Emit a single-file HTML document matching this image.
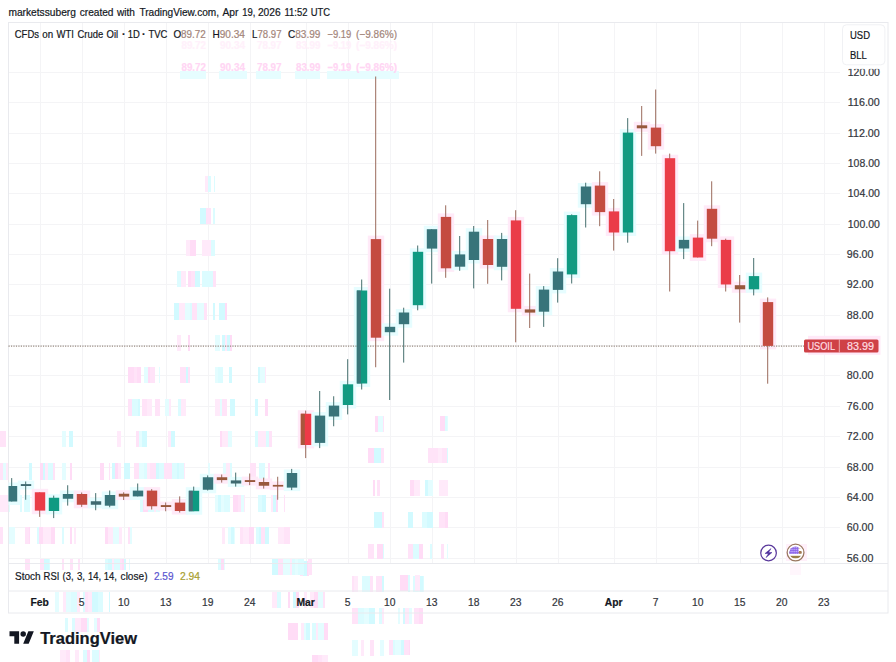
<!DOCTYPE html>
<html><head><meta charset="utf-8"><title>chart</title>
<style>
html,body{margin:0;padding:0;background:#fff;}
body{width:896px;height:662px;overflow:hidden;position:relative;font-family:"Liberation Sans",sans-serif;}
svg{position:absolute;left:0;top:0;}
text{font-family:"Liberation Sans",sans-serif;}
text,tspan{fill:currentColor;stroke:currentColor;stroke-width:0.2px;}
</style></head><body>
<svg width="896" height="662" viewBox="0 0 896 662">
<rect x="0" y="0" width="896" height="662" fill="#ffffff"/>

<g stroke="#f4f4f6" stroke-width="1" shape-rendering="crispEdges">
<line x1="40.0" y1="22.5" x2="40.0" y2="563.5"/>
<line x1="82.0" y1="22.5" x2="82.0" y2="563.5"/>
<line x1="124.0" y1="22.5" x2="124.0" y2="563.5"/>
<line x1="166.0" y1="22.5" x2="166.0" y2="563.5"/>
<line x1="208.0" y1="22.5" x2="208.0" y2="563.5"/>
<line x1="250.0" y1="22.5" x2="250.0" y2="563.5"/>
<line x1="306.0" y1="22.5" x2="306.0" y2="563.5"/>
<line x1="348.0" y1="22.5" x2="348.0" y2="563.5"/>
<line x1="390.0" y1="22.5" x2="390.0" y2="563.5"/>
<line x1="432.0" y1="22.5" x2="432.0" y2="563.5"/>
<line x1="474.0" y1="22.5" x2="474.0" y2="563.5"/>
<line x1="516.0" y1="22.5" x2="516.0" y2="563.5"/>
<line x1="558.0" y1="22.5" x2="558.0" y2="563.5"/>
<line x1="614.0" y1="22.5" x2="614.0" y2="563.5"/>
<line x1="656.0" y1="22.5" x2="656.0" y2="563.5"/>
<line x1="698.0" y1="22.5" x2="698.0" y2="563.5"/>
<line x1="740.0" y1="22.5" x2="740.0" y2="563.5"/>
<line x1="782.0" y1="22.5" x2="782.0" y2="563.5"/>
<line x1="824.0" y1="22.5" x2="824.0" y2="563.5"/>
<line x1="8.5" y1="558.1" x2="840" y2="558.1"/>
<line x1="8.5" y1="527.7" x2="840" y2="527.7"/>
<line x1="8.5" y1="497.3" x2="840" y2="497.3"/>
<line x1="8.5" y1="467.0" x2="840" y2="467.0"/>
<line x1="8.5" y1="436.6" x2="840" y2="436.6"/>
<line x1="8.5" y1="406.3" x2="840" y2="406.3"/>
<line x1="8.5" y1="375.9" x2="840" y2="375.9"/>
<line x1="8.5" y1="345.5" x2="840" y2="345.5"/>
<line x1="8.5" y1="315.2" x2="840" y2="315.2"/>
<line x1="8.5" y1="284.8" x2="840" y2="284.8"/>
<line x1="8.5" y1="254.5" x2="840" y2="254.5"/>
<line x1="8.5" y1="224.1" x2="840" y2="224.1"/>
<line x1="8.5" y1="193.7" x2="840" y2="193.7"/>
<line x1="8.5" y1="163.4" x2="840" y2="163.4"/>
<line x1="8.5" y1="133.0" x2="840" y2="133.0"/>
<line x1="8.5" y1="102.7" x2="840" y2="102.7"/>
<line x1="8.5" y1="72.3" x2="840" y2="72.3"/>
</g>
<g shape-rendering="crispEdges">
<rect x="177" y="271" width="4" height="16" fill="#dcfcff"/>
<rect x="181" y="271" width="5" height="16" fill="#ffeafa"/>
<rect x="188" y="271" width="3" height="16" fill="#ffdcf6"/>
<rect x="191" y="271" width="4" height="16" fill="#ffe3f8"/>
<rect x="195" y="271" width="5" height="16" fill="#d2faff"/>
<rect x="202" y="271" width="6" height="16" fill="#dcfcff"/>
<rect x="208" y="271" width="5" height="16" fill="#dcfcff"/>
<rect x="213" y="271" width="3" height="16" fill="#ffe3f8"/>
<rect x="174" y="303" width="3" height="17" fill="#d2faff"/>
<rect x="177" y="303" width="2" height="17" fill="#d2faff"/>
<rect x="179" y="303" width="6" height="17" fill="#ffeafa"/>
<rect x="185" y="303" width="5" height="17" fill="#e4fdff"/>
<rect x="190" y="303" width="2" height="17" fill="#dcfcff"/>
<rect x="192" y="303" width="5" height="17" fill="#ffe3f8"/>
<rect x="197" y="303" width="4" height="17" fill="#e4fdff"/>
<rect x="201" y="303" width="3" height="17" fill="#e4fdff"/>
<rect x="204" y="303" width="3" height="17" fill="#ffe3f8"/>
<rect x="213" y="303" width="2" height="17" fill="#d2faff"/>
<rect x="219" y="303" width="6" height="17" fill="#d2faff"/>
<rect x="225" y="303" width="2" height="17" fill="#ffdcf6"/>
<rect x="177" y="335" width="4" height="16" fill="#ffeafa"/>
<rect x="188" y="335" width="2" height="16" fill="#ffdcf6"/>
<rect x="215" y="335" width="5" height="16" fill="#e4fdff"/>
<rect x="222" y="335" width="3" height="16" fill="#d2faff"/>
<rect x="225" y="335" width="2" height="16" fill="#ffeafa"/>
<rect x="227" y="335" width="3" height="16" fill="#d2faff"/>
<rect x="230" y="335" width="2" height="16" fill="#ffdcf6"/>
<rect x="128" y="367" width="6" height="16" fill="#ffdcf6"/>
<rect x="134" y="367" width="3" height="16" fill="#ffe3f8"/>
<rect x="137" y="367" width="4" height="16" fill="#ffdcf6"/>
<rect x="144" y="367" width="4" height="16" fill="#e4fdff"/>
<rect x="148" y="367" width="2" height="16" fill="#ffdcf6"/>
<rect x="150" y="367" width="5" height="16" fill="#ffe3f8"/>
<rect x="159" y="367" width="1" height="16" fill="#e4fdff"/>
<rect x="180" y="367" width="3" height="16" fill="#ffe3f8"/>
<rect x="183" y="367" width="3" height="16" fill="#ffe3f8"/>
<rect x="186" y="367" width="2" height="16" fill="#d2faff"/>
<rect x="188" y="367" width="2" height="16" fill="#ffe3f8"/>
<rect x="215" y="367" width="3" height="16" fill="#e4fdff"/>
<rect x="218" y="367" width="5" height="16" fill="#dcfcff"/>
<rect x="229" y="367" width="3" height="16" fill="#d2faff"/>
<rect x="258" y="367" width="2" height="16" fill="#d2faff"/>
<rect x="260" y="367" width="5" height="16" fill="#e4fdff"/>
<rect x="265" y="367" width="1" height="16" fill="#ffeafa"/>
<rect x="128" y="399" width="4" height="17" fill="#ffe3f8"/>
<rect x="132" y="399" width="3" height="17" fill="#dcfcff"/>
<rect x="135" y="399" width="3" height="17" fill="#dcfcff"/>
<rect x="138" y="399" width="2" height="17" fill="#d2faff"/>
<rect x="142" y="399" width="5" height="17" fill="#ffe3f8"/>
<rect x="147" y="399" width="5" height="17" fill="#ffeafa"/>
<rect x="155" y="399" width="5" height="17" fill="#ffe3f8"/>
<rect x="165" y="399" width="4" height="17" fill="#e4fdff"/>
<rect x="169" y="399" width="2" height="17" fill="#ffeafa"/>
<rect x="178" y="399" width="3" height="17" fill="#dcfcff"/>
<rect x="181" y="399" width="5" height="17" fill="#ffeafa"/>
<rect x="215" y="399" width="5" height="17" fill="#ffeafa"/>
<rect x="220" y="399" width="2" height="17" fill="#e4fdff"/>
<rect x="222" y="399" width="5" height="17" fill="#ffe3f8"/>
<rect x="230" y="399" width="5" height="17" fill="#d2faff"/>
<rect x="255" y="399" width="3" height="17" fill="#d2faff"/>
<rect x="265" y="399" width="3" height="17" fill="#ffdcf6"/>
<rect x="117" y="431" width="4" height="16" fill="#ffeafa"/>
<rect x="136" y="431" width="3" height="16" fill="#ffe3f8"/>
<rect x="139" y="431" width="3" height="16" fill="#e4fdff"/>
<rect x="142" y="431" width="3" height="16" fill="#d2faff"/>
<rect x="145" y="431" width="2" height="16" fill="#d2faff"/>
<rect x="168" y="431" width="3" height="16" fill="#ffeafa"/>
<rect x="171" y="431" width="4" height="16" fill="#d2faff"/>
<rect x="220" y="431" width="2" height="16" fill="#ffdcf6"/>
<rect x="222" y="431" width="6" height="16" fill="#ffeafa"/>
<rect x="228" y="431" width="4" height="16" fill="#e4fdff"/>
<rect x="255" y="431" width="3" height="16" fill="#dcfcff"/>
<rect x="258" y="431" width="2" height="16" fill="#ffeafa"/>
<rect x="260" y="431" width="6" height="16" fill="#ffeafa"/>
<rect x="266" y="431" width="3" height="16" fill="#dcfcff"/>
<rect x="269" y="431" width="3" height="16" fill="#ffe3f8"/>
<rect x="112" y="463" width="3" height="16" fill="#d2faff"/>
<rect x="115" y="463" width="3" height="16" fill="#ffdcf6"/>
<rect x="118" y="463" width="3" height="16" fill="#ffeafa"/>
<rect x="124" y="463" width="6" height="16" fill="#d2faff"/>
<rect x="134" y="463" width="5" height="16" fill="#ffe3f8"/>
<rect x="139" y="463" width="5" height="16" fill="#e4fdff"/>
<rect x="144" y="463" width="3" height="16" fill="#dcfcff"/>
<rect x="147" y="463" width="3" height="16" fill="#ffeafa"/>
<rect x="150" y="463" width="6" height="16" fill="#ffe3f8"/>
<rect x="156" y="463" width="3" height="16" fill="#d2faff"/>
<rect x="159" y="463" width="5" height="16" fill="#dcfcff"/>
<rect x="164" y="463" width="5" height="16" fill="#ffe3f8"/>
<rect x="169" y="463" width="3" height="16" fill="#ffe3f8"/>
<rect x="172" y="463" width="5" height="16" fill="#dcfcff"/>
<rect x="177" y="463" width="2" height="16" fill="#d2faff"/>
<rect x="179" y="463" width="5" height="16" fill="#dcfcff"/>
<rect x="184" y="463" width="1" height="16" fill="#ffeafa"/>
<rect x="208" y="463" width="2" height="16" fill="#e4fdff"/>
<rect x="223" y="463" width="3" height="16" fill="#e4fdff"/>
<rect x="226" y="463" width="4" height="16" fill="#ffeafa"/>
<rect x="230" y="463" width="2" height="16" fill="#dcfcff"/>
<rect x="250" y="463" width="6" height="16" fill="#ffe3f8"/>
<rect x="259" y="463" width="6" height="16" fill="#dcfcff"/>
<rect x="268" y="463" width="2" height="16" fill="#ffe3f8"/>
<rect x="375" y="416" width="3" height="16" fill="#ffdcf6"/>
<rect x="378" y="416" width="5" height="16" fill="#e4fdff"/>
<rect x="383" y="416" width="1" height="16" fill="#ffe3f8"/>
<rect x="368" y="448" width="6" height="15" fill="#ffdcf6"/>
<rect x="374" y="448" width="5" height="15" fill="#d2faff"/>
<rect x="379" y="448" width="2" height="15" fill="#d2faff"/>
<rect x="381" y="448" width="3" height="15" fill="#ffe3f8"/>
<rect x="373" y="480" width="2" height="16" fill="#ffdcf6"/>
<rect x="377" y="480" width="3" height="16" fill="#ffe3f8"/>
<rect x="374" y="512" width="3" height="16" fill="#d2faff"/>
<rect x="377" y="512" width="5" height="16" fill="#d2faff"/>
<rect x="382" y="512" width="2" height="16" fill="#ffe3f8"/>
<rect x="368" y="544" width="6" height="15" fill="#ffe3f8"/>
<rect x="377" y="544" width="6" height="15" fill="#ffdcf6"/>
<rect x="383" y="544" width="1" height="15" fill="#dcfcff"/>
<rect x="352" y="576" width="2" height="16" fill="#ffe3f8"/>
<rect x="354" y="576" width="4" height="16" fill="#ffeafa"/>
<rect x="362" y="576" width="3" height="16" fill="#dcfcff"/>
<rect x="365" y="576" width="5" height="16" fill="#dcfcff"/>
<rect x="370" y="576" width="3" height="16" fill="#ffe3f8"/>
<rect x="376" y="576" width="6" height="16" fill="#ffe3f8"/>
<rect x="382" y="576" width="2" height="16" fill="#d2faff"/>
<rect x="352" y="608" width="3" height="16" fill="#ffe3f8"/>
<rect x="355" y="608" width="3" height="16" fill="#ffe3f8"/>
<rect x="358" y="608" width="6" height="16" fill="#dcfcff"/>
<rect x="364" y="608" width="5" height="16" fill="#e4fdff"/>
<rect x="369" y="608" width="2" height="16" fill="#d2faff"/>
<rect x="371" y="608" width="4" height="16" fill="#d2faff"/>
<rect x="379" y="608" width="3" height="16" fill="#dcfcff"/>
<rect x="382" y="608" width="2" height="16" fill="#ffeafa"/>
<rect x="352" y="640" width="6" height="16" fill="#e4fdff"/>
<rect x="361" y="640" width="3" height="16" fill="#ffeafa"/>
<rect x="370" y="640" width="4" height="16" fill="#ffe3f8"/>
<rect x="380" y="640" width="4" height="16" fill="#e4fdff"/>
<rect x="440" y="416" width="5" height="15" fill="#ffdcf6"/>
<rect x="445" y="416" width="2" height="15" fill="#dcfcff"/>
<rect x="447" y="416" width="1" height="15" fill="#e4fdff"/>
<rect x="428" y="448" width="5" height="15" fill="#ffe3f8"/>
<rect x="433" y="448" width="3" height="15" fill="#ffe3f8"/>
<rect x="436" y="448" width="2" height="15" fill="#ffe3f8"/>
<rect x="438" y="448" width="4" height="15" fill="#ffeafa"/>
<rect x="442" y="448" width="3" height="15" fill="#ffe3f8"/>
<rect x="445" y="448" width="2" height="15" fill="#ffe3f8"/>
<rect x="447" y="448" width="1" height="15" fill="#dcfcff"/>
<rect x="410" y="480" width="4" height="16" fill="#ffdcf6"/>
<rect x="414" y="480" width="6" height="16" fill="#ffeafa"/>
<rect x="425" y="480" width="3" height="16" fill="#d2faff"/>
<rect x="428" y="480" width="5" height="16" fill="#e4fdff"/>
<rect x="439" y="480" width="3" height="16" fill="#ffeafa"/>
<rect x="442" y="480" width="6" height="16" fill="#ffeafa"/>
<rect x="408" y="512" width="5" height="16" fill="#d2faff"/>
<rect x="422" y="512" width="5" height="16" fill="#dcfcff"/>
<rect x="427" y="512" width="6" height="16" fill="#d2faff"/>
<rect x="439" y="512" width="6" height="16" fill="#ffe3f8"/>
<rect x="445" y="512" width="2" height="16" fill="#ffdcf6"/>
<rect x="447" y="512" width="1" height="16" fill="#ffdcf6"/>
<rect x="408" y="544" width="5" height="15" fill="#ffe3f8"/>
<rect x="413" y="544" width="6" height="15" fill="#dcfcff"/>
<rect x="419" y="544" width="4" height="15" fill="#ffdcf6"/>
<rect x="430" y="544" width="2" height="15" fill="#dcfcff"/>
<rect x="441" y="544" width="3" height="15" fill="#ffe3f8"/>
<rect x="447" y="544" width="1" height="15" fill="#e4fdff"/>
<rect x="408" y="576" width="2" height="16" fill="#d2faff"/>
<rect x="413" y="576" width="5" height="16" fill="#dcfcff"/>
<rect x="418" y="576" width="2" height="16" fill="#e4fdff"/>
<rect x="420" y="576" width="3" height="16" fill="#d2faff"/>
<rect x="423" y="576" width="1" height="16" fill="#dcfcff"/>
<rect x="398" y="608" width="2" height="16" fill="#e4fdff"/>
<rect x="403" y="608" width="2" height="16" fill="#d2faff"/>
<rect x="405" y="608" width="4" height="16" fill="#ffeafa"/>
<rect x="409" y="608" width="3" height="16" fill="#e4fdff"/>
<rect x="414" y="608" width="5" height="16" fill="#ffe3f8"/>
<rect x="419" y="608" width="4" height="16" fill="#ffdcf6"/>
<rect x="389" y="640" width="4" height="15" fill="#ffe3f8"/>
<rect x="393" y="640" width="2" height="15" fill="#dcfcff"/>
<rect x="395" y="640" width="6" height="15" fill="#e4fdff"/>
<rect x="401" y="640" width="3" height="15" fill="#d2faff"/>
<rect x="404" y="640" width="5" height="15" fill="#ffe3f8"/>
<rect x="409" y="640" width="1" height="15" fill="#ffdcf6"/>
<rect x="312" y="623" width="4" height="17" fill="#dcfcff"/>
<rect x="318" y="623" width="6" height="17" fill="#e4fdff"/>
<rect x="324" y="623" width="4" height="17" fill="#ffdcf6"/>
<rect x="312" y="655" width="4" height="7" fill="#ffdcf6"/>
<rect x="316" y="655" width="2" height="7" fill="#ffdcf6"/>
<rect x="318" y="655" width="4" height="7" fill="#ffe3f8"/>
<rect x="322" y="655" width="6" height="7" fill="#ffeafa"/>
<rect x="300" y="561" width="3" height="15" fill="#ffe3f8"/>
<rect x="303" y="561" width="4" height="15" fill="#d2faff"/>
<rect x="307" y="561" width="2" height="15" fill="#ffdcf6"/>
<rect x="205" y="176" width="3" height="16" fill="#ffeafa"/>
<rect x="208" y="176" width="3" height="16" fill="#dcfcff"/>
<rect x="214" y="176" width="1" height="16" fill="#dcfcff"/>
<rect x="200" y="208" width="6" height="16" fill="#d2faff"/>
<rect x="206" y="208" width="5" height="16" fill="#ffe3f8"/>
<rect x="213" y="208" width="2" height="16" fill="#dcfcff"/>
<rect x="186" y="240" width="4" height="16" fill="#ffeafa"/>
<rect x="190" y="240" width="3" height="16" fill="#ffdcf6"/>
<rect x="193" y="240" width="3" height="16" fill="#ffdcf6"/>
<rect x="202" y="240" width="6" height="16" fill="#ffeafa"/>
<rect x="208" y="240" width="3" height="16" fill="#ffeafa"/>
<rect x="211" y="240" width="4" height="16" fill="#dcfcff"/>
<rect x="0" y="431" width="6" height="16" fill="#ffe3f8"/>
<rect x="62" y="431" width="4" height="16" fill="#e4fdff"/>
<rect x="69" y="431" width="4" height="16" fill="#d2faff"/>
<rect x="0" y="463" width="3" height="17" fill="#ffe3f8"/>
<rect x="3" y="463" width="3" height="17" fill="#e4fdff"/>
<rect x="6" y="463" width="2" height="17" fill="#ffeafa"/>
<rect x="29" y="463" width="3" height="17" fill="#d2faff"/>
<rect x="40" y="463" width="3" height="17" fill="#ffdcf6"/>
<rect x="43" y="463" width="2" height="17" fill="#d2faff"/>
<rect x="45" y="463" width="3" height="17" fill="#ffeafa"/>
<rect x="48" y="463" width="5" height="17" fill="#dcfcff"/>
<rect x="53" y="463" width="2" height="17" fill="#ffe3f8"/>
<rect x="62" y="463" width="4" height="17" fill="#e4fdff"/>
<rect x="70" y="463" width="2" height="17" fill="#ffdcf6"/>
<rect x="100" y="463" width="4" height="17" fill="#ffdcf6"/>
<rect x="109" y="463" width="1" height="17" fill="#ffe3f8"/>
<rect x="0" y="495" width="3" height="17" fill="#ffeafa"/>
<rect x="3" y="495" width="6" height="17" fill="#ffeafa"/>
<rect x="9" y="495" width="1" height="17" fill="#e4fdff"/>
<rect x="20" y="495" width="2" height="17" fill="#dcfcff"/>
<rect x="24" y="495" width="3" height="17" fill="#dcfcff"/>
<rect x="27" y="495" width="3" height="17" fill="#dcfcff"/>
<rect x="33" y="495" width="6" height="17" fill="#ffeafa"/>
<rect x="39" y="495" width="4" height="17" fill="#dcfcff"/>
<rect x="43" y="495" width="2" height="17" fill="#ffeafa"/>
<rect x="45" y="495" width="5" height="17" fill="#ffdcf6"/>
<rect x="53" y="495" width="2" height="17" fill="#ffdcf6"/>
<rect x="55" y="495" width="4" height="17" fill="#ffdcf6"/>
<rect x="140" y="495" width="3" height="17" fill="#dcfcff"/>
<rect x="143" y="495" width="5" height="17" fill="#ffdcf6"/>
<rect x="148" y="495" width="6" height="17" fill="#dcfcff"/>
<rect x="154" y="495" width="2" height="17" fill="#ffeafa"/>
<rect x="156" y="495" width="4" height="17" fill="#e4fdff"/>
<rect x="215" y="495" width="3" height="17" fill="#e4fdff"/>
<rect x="218" y="495" width="3" height="17" fill="#d2faff"/>
<rect x="221" y="495" width="3" height="17" fill="#e4fdff"/>
<rect x="224" y="495" width="6" height="17" fill="#dcfcff"/>
<rect x="233" y="495" width="5" height="17" fill="#ffdcf6"/>
<rect x="238" y="495" width="3" height="17" fill="#ffe3f8"/>
<rect x="241" y="495" width="3" height="17" fill="#e4fdff"/>
<rect x="244" y="495" width="1" height="17" fill="#ffeafa"/>
<rect x="258" y="495" width="4" height="17" fill="#dcfcff"/>
<rect x="262" y="495" width="4" height="17" fill="#d2faff"/>
<rect x="271" y="495" width="2" height="17" fill="#ffeafa"/>
<rect x="273" y="495" width="3" height="17" fill="#d2faff"/>
<rect x="276" y="495" width="2" height="17" fill="#ffdcf6"/>
<rect x="284" y="495" width="1" height="17" fill="#ffe3f8"/>
<rect x="0" y="527" width="3" height="17" fill="#ffe3f8"/>
<rect x="9" y="527" width="6" height="17" fill="#e4fdff"/>
<rect x="25" y="527" width="4" height="17" fill="#ffe3f8"/>
<rect x="29" y="527" width="1" height="17" fill="#ffdcf6"/>
<rect x="37" y="527" width="2" height="17" fill="#dcfcff"/>
<rect x="39" y="527" width="4" height="17" fill="#ffdcf6"/>
<rect x="43" y="527" width="4" height="17" fill="#ffeafa"/>
<rect x="47" y="527" width="4" height="17" fill="#ffeafa"/>
<rect x="51" y="527" width="4" height="17" fill="#ffdcf6"/>
<rect x="62" y="527" width="2" height="17" fill="#dcfcff"/>
<rect x="70" y="527" width="2" height="17" fill="#ffdcf6"/>
<rect x="74" y="527" width="2" height="17" fill="#ffeafa"/>
<rect x="105" y="527" width="3" height="17" fill="#ffdcf6"/>
<rect x="108" y="527" width="5" height="17" fill="#ffeafa"/>
<rect x="113" y="527" width="6" height="17" fill="#e4fdff"/>
<rect x="119" y="527" width="3" height="17" fill="#ffeafa"/>
<rect x="128" y="527" width="2" height="17" fill="#ffe3f8"/>
<rect x="130" y="527" width="2" height="17" fill="#e4fdff"/>
<rect x="222" y="527" width="3" height="17" fill="#ffeafa"/>
<rect x="228" y="527" width="3" height="17" fill="#e4fdff"/>
<rect x="231" y="527" width="3" height="17" fill="#d2faff"/>
<rect x="234" y="527" width="1" height="17" fill="#e4fdff"/>
<rect x="240" y="527" width="3" height="17" fill="#ffe3f8"/>
<rect x="243" y="527" width="6" height="17" fill="#ffeafa"/>
<rect x="249" y="527" width="5" height="17" fill="#ffdcf6"/>
<rect x="256" y="527" width="3" height="17" fill="#dcfcff"/>
<rect x="259" y="527" width="2" height="17" fill="#d2faff"/>
<rect x="261" y="527" width="4" height="17" fill="#ffe3f8"/>
<rect x="265" y="527" width="4" height="17" fill="#d2faff"/>
<rect x="278" y="527" width="3" height="17" fill="#ffeafa"/>
<rect x="281" y="527" width="3" height="17" fill="#ffeafa"/>
<rect x="284" y="527" width="3" height="17" fill="#ffe3f8"/>
<rect x="287" y="527" width="3" height="17" fill="#ffe3f8"/>
<rect x="25" y="559" width="5" height="11" fill="#ffe3f8"/>
<rect x="40" y="559" width="4" height="11" fill="#ffe3f8"/>
<rect x="44" y="559" width="5" height="11" fill="#d2faff"/>
<rect x="49" y="559" width="1" height="11" fill="#dcfcff"/>
<rect x="62" y="559" width="2" height="11" fill="#ffe3f8"/>
<rect x="70" y="559" width="3" height="11" fill="#ffe3f8"/>
<rect x="78" y="559" width="2" height="11" fill="#ffe3f8"/>
<rect x="105" y="559" width="3" height="11" fill="#dcfcff"/>
<rect x="108" y="559" width="4" height="11" fill="#d2faff"/>
<rect x="112" y="559" width="2" height="11" fill="#ffeafa"/>
<rect x="114" y="559" width="6" height="11" fill="#dcfcff"/>
<rect x="120" y="559" width="2" height="11" fill="#ffe3f8"/>
<rect x="122" y="559" width="2" height="11" fill="#ffdcf6"/>
<rect x="124" y="559" width="2" height="11" fill="#d2faff"/>
<rect x="129" y="559" width="1" height="11" fill="#e4fdff"/>
<rect x="218" y="559" width="3" height="11" fill="#dcfcff"/>
<rect x="221" y="559" width="3" height="11" fill="#ffdcf6"/>
<rect x="224" y="559" width="1" height="11" fill="#e4fdff"/>
<rect x="272" y="559" width="6" height="16" fill="#d2faff"/>
<rect x="278" y="559" width="5" height="16" fill="#ffe3f8"/>
<rect x="283" y="559" width="4" height="16" fill="#e4fdff"/>
<rect x="287" y="559" width="3" height="16" fill="#e4fdff"/>
<rect x="290" y="559" width="2" height="16" fill="#ffeafa"/>
<rect x="292" y="559" width="3" height="16" fill="#dcfcff"/>
<rect x="295" y="559" width="3" height="16" fill="#e4fdff"/>
<rect x="298" y="559" width="6" height="16" fill="#dcfcff"/>
<rect x="308" y="559" width="4" height="16" fill="#ffe3f8"/>
<rect x="55" y="592" width="4" height="20" fill="#e4fdff"/>
<rect x="63" y="592" width="3" height="20" fill="#ffeafa"/>
<rect x="66" y="592" width="3" height="20" fill="#e4fdff"/>
<rect x="69" y="592" width="2" height="20" fill="#e4fdff"/>
<rect x="71" y="592" width="6" height="20" fill="#dcfcff"/>
<rect x="77" y="592" width="3" height="20" fill="#ffeafa"/>
<rect x="83" y="592" width="2" height="20" fill="#dcfcff"/>
<rect x="85" y="592" width="3" height="20" fill="#ffe3f8"/>
<rect x="88" y="592" width="4" height="20" fill="#ffeafa"/>
<rect x="92" y="592" width="6" height="20" fill="#d2faff"/>
<rect x="98" y="592" width="5" height="20" fill="#dcfcff"/>
<rect x="109" y="592" width="1" height="20" fill="#d2faff"/>
<rect x="65" y="618" width="3" height="14" fill="#dcfcff"/>
<rect x="72" y="618" width="3" height="14" fill="#dcfcff"/>
<rect x="75" y="618" width="3" height="14" fill="#ffeafa"/>
<rect x="78" y="618" width="3" height="14" fill="#ffeafa"/>
<rect x="81" y="618" width="6" height="14" fill="#ffdcf6"/>
<rect x="87" y="618" width="2" height="14" fill="#e4fdff"/>
<rect x="94" y="618" width="3" height="14" fill="#e4fdff"/>
<rect x="97" y="618" width="3" height="14" fill="#ffdcf6"/>
<rect x="60" y="650" width="6" height="12" fill="#ffeafa"/>
<rect x="66" y="650" width="4" height="12" fill="#ffe3f8"/>
<rect x="75" y="650" width="4" height="12" fill="#ffeafa"/>
<rect x="83" y="650" width="4" height="12" fill="#dcfcff"/>
<rect x="87" y="650" width="3" height="12" fill="#ffdcf6"/>
<rect x="92" y="650" width="5" height="12" fill="#dcfcff"/>
<rect x="97" y="650" width="2" height="12" fill="#dcfcff"/>
<rect x="99" y="650" width="1" height="12" fill="#ffeafa"/>
<rect x="272" y="592" width="5" height="16" fill="#ffeafa"/>
<rect x="277" y="592" width="4" height="16" fill="#dcfcff"/>
<rect x="288" y="592" width="2" height="16" fill="#ffdcf6"/>
<rect x="293" y="592" width="3" height="16" fill="#d2faff"/>
<rect x="296" y="592" width="3" height="16" fill="#ffdcf6"/>
<rect x="304" y="592" width="3" height="16" fill="#ffeafa"/>
<rect x="310" y="592" width="4" height="16" fill="#ffeafa"/>
<rect x="314" y="592" width="4" height="16" fill="#ffdcf6"/>
<rect x="318" y="592" width="5" height="16" fill="#e4fdff"/>
<rect x="323" y="592" width="2" height="16" fill="#ffe3f8"/>
<rect x="288" y="623" width="4" height="17" fill="#ffdcf6"/>
<rect x="292" y="623" width="6" height="17" fill="#ffdcf6"/>
<rect x="301" y="623" width="3" height="17" fill="#ffeafa"/>
<rect x="304" y="623" width="2" height="17" fill="#e4fdff"/>
<rect x="306" y="623" width="4" height="17" fill="#d2faff"/>
<rect x="316" y="623" width="2" height="17" fill="#ffeafa"/>
<rect x="400" y="575" width="3" height="16" fill="#ffdcf6"/>
<rect x="403" y="575" width="5" height="16" fill="#ffdcf6"/>
<rect x="408" y="575" width="2" height="16" fill="#dcfcff"/>
<rect x="415" y="575" width="2" height="16" fill="#ffeafa"/>
<rect x="417" y="575" width="3" height="16" fill="#ffeafa"/>
<rect x="180" y="71" width="26" height="8" fill="#e6fdff"/>
<rect x="219" y="71" width="28" height="8" fill="#e6fdff"/>
<rect x="256" y="71" width="25" height="8" fill="#e6fdff"/>
<rect x="295" y="71" width="25" height="8" fill="#e6fdff"/>
<rect x="327" y="71" width="72" height="8" fill="#e6fdff"/>
</g>
<g font-size="10.5" style="color:#ffd6f4" font-weight="bold">
<text x="181.50" y="70.60" font-size="10.5" textLength="24.40" lengthAdjust="spacingAndGlyphs" font-weight="bold">89.72</text>
<text x="220.00" y="70.60" font-size="10.5" textLength="25.00" lengthAdjust="spacingAndGlyphs" font-weight="bold">90.34</text>
<text x="257.00" y="70.60" font-size="10.5" textLength="24.50" lengthAdjust="spacingAndGlyphs" font-weight="bold">78.97</text>
<text x="296.00" y="70.60" font-size="10.5" textLength="24.40" lengthAdjust="spacingAndGlyphs" font-weight="bold">83.99</text>
<text x="327.37" y="70.60" font-size="10.5" textLength="23.91" lengthAdjust="spacingAndGlyphs" font-weight="bold">−9.19</text>
<text x="356.00" y="70.60" font-size="10.5" textLength="41.00" lengthAdjust="spacingAndGlyphs" font-weight="bold">(−9.86%)</text>
</g>
<g font-size="10.5" style="color:#fff1fb" font-weight="bold">
<text x="181.50" y="48.50" font-size="10.5" textLength="24.40" lengthAdjust="spacingAndGlyphs" font-weight="bold">89.72</text>
<text x="220.00" y="48.50" font-size="10.5" textLength="25.00" lengthAdjust="spacingAndGlyphs" font-weight="bold">90.34</text>
<text x="257.00" y="48.50" font-size="10.5" textLength="24.50" lengthAdjust="spacingAndGlyphs" font-weight="bold">78.97</text>
<text x="296.00" y="48.50" font-size="10.5" textLength="24.40" lengthAdjust="spacingAndGlyphs" font-weight="bold">83.99</text>
<text x="327.37" y="48.50" font-size="10.5" textLength="23.91" lengthAdjust="spacingAndGlyphs" font-weight="bold">−9.19</text>
<text x="356.00" y="48.50" font-size="10.5" textLength="41.00" lengthAdjust="spacingAndGlyphs" font-weight="bold">(−9.86%)</text>
</g>
<g stroke="#e9eaee" stroke-width="1" fill="none">
<rect x="8.5" y="22.5" width="879.5" height="590.5"/>
<line x1="8.5" y1="563.5" x2="888" y2="563.5"/>
<line x1="8.5" y1="591" x2="888" y2="591"/>
</g>
<g>
<rect x="8.5" y="482.5" width="11.7" height="22.5" fill="#e6fdff"/>
<rect x="17.8" y="480.6" width="16.4" height="8.9" fill="#e6fdff"/>
<rect x="31.8" y="488.8" width="16.4" height="25.4" fill="#ffeaf8"/>
<rect x="45.8" y="494.2" width="16.4" height="20.2" fill="#e6fdff"/>
<rect x="59.8" y="490.5" width="16.4" height="11.8" fill="#e6fdff"/>
<rect x="73.8" y="490.5" width="16.4" height="17.8" fill="#ffeaf8"/>
<rect x="87.8" y="497.8" width="16.4" height="10.5" fill="#e6fdff"/>
<rect x="101.8" y="491.5" width="16.4" height="17.7" fill="#e6fdff"/>
<rect x="115.8" y="490.2" width="16.4" height="9.9" fill="#ffeaf8"/>
<rect x="129.8" y="487.1" width="16.4" height="12.8" fill="#e6fdff"/>
<rect x="143.8" y="487.1" width="16.4" height="22.6" fill="#ffeaf8"/>
<rect x="157.8" y="501.6" width="16.4" height="8.9" fill="#ffeaf8"/>
<rect x="171.8" y="499.1" width="16.4" height="15.4" fill="#ffeaf8"/>
<rect x="185.8" y="487.2" width="16.4" height="27.5" fill="#e6fdff"/>
<rect x="199.8" y="473.8" width="16.4" height="19.5" fill="#e6fdff"/>
<rect x="213.8" y="473.8" width="16.4" height="9.9" fill="#ffeaf8"/>
<rect x="227.8" y="476.9" width="16.4" height="10.1" fill="#e6fdff"/>
<rect x="241.8" y="476.6" width="16.4" height="8.9" fill="#ffeaf8"/>
<rect x="255.8" y="478.5" width="16.4" height="10.8" fill="#ffeaf8"/>
<rect x="269.8" y="481.4" width="16.4" height="8.7" fill="#ffeaf8"/>
<rect x="283.8" y="469.5" width="16.4" height="21.6" fill="#e6fdff"/>
<rect x="297.8" y="410.2" width="16.4" height="38.2" fill="#ffeaf8"/>
<rect x="311.8" y="412.1" width="16.4" height="34.3" fill="#e6fdff"/>
<rect x="325.8" y="402.1" width="16.4" height="17.9" fill="#e6fdff"/>
<rect x="339.8" y="380.8" width="16.4" height="27.7" fill="#e6fdff"/>
<rect x="353.8" y="287.0" width="16.4" height="100.0" fill="#e6fdff"/>
<rect x="367.8" y="235.6" width="16.4" height="105.6" fill="#ffeaf8"/>
<rect x="381.8" y="323.3" width="16.4" height="12.4" fill="#e6fdff"/>
<rect x="395.8" y="309.0" width="16.4" height="18.7" fill="#e6fdff"/>
<rect x="409.8" y="248.3" width="16.4" height="60.4" fill="#e6fdff"/>
<rect x="423.8" y="225.7" width="16.4" height="26.4" fill="#e6fdff"/>
<rect x="437.8" y="213.4" width="16.4" height="58.4" fill="#ffeaf8"/>
<rect x="451.8" y="250.9" width="16.4" height="19.3" fill="#e6fdff"/>
<rect x="465.8" y="228.2" width="16.4" height="35.3" fill="#e6fdff"/>
<rect x="479.8" y="235.5" width="16.4" height="33.0" fill="#ffeaf8"/>
<rect x="493.8" y="235.5" width="16.4" height="34.8" fill="#e6fdff"/>
<rect x="507.8" y="216.9" width="16.4" height="95.4" fill="#ffeaf8"/>
<rect x="521.8" y="305.9" width="16.4" height="10.2" fill="#ffeaf8"/>
<rect x="535.8" y="286.1" width="16.4" height="29.1" fill="#e6fdff"/>
<rect x="549.8" y="268.0" width="16.4" height="25.4" fill="#e6fdff"/>
<rect x="563.8" y="211.6" width="16.4" height="66.3" fill="#e6fdff"/>
<rect x="577.8" y="183.0" width="16.4" height="24.7" fill="#e6fdff"/>
<rect x="591.8" y="182.1" width="16.4" height="33.5" fill="#ffeaf8"/>
<rect x="605.8" y="207.9" width="16.4" height="28.1" fill="#ffeaf8"/>
<rect x="619.8" y="129.1" width="16.4" height="106.9" fill="#e6fdff"/>
<rect x="633.8" y="121.8" width="16.4" height="10.0" fill="#ffeaf8"/>
<rect x="647.8" y="124.1" width="16.4" height="25.6" fill="#ffeaf8"/>
<rect x="661.8" y="154.7" width="16.4" height="100.0" fill="#ffeaf8"/>
<rect x="675.8" y="236.4" width="16.4" height="15.6" fill="#e6fdff"/>
<rect x="689.8" y="234.1" width="16.4" height="26.9" fill="#ffeaf8"/>
<rect x="703.8" y="205.3" width="16.4" height="36.9" fill="#ffeaf8"/>
<rect x="717.8" y="236.4" width="16.4" height="51.6" fill="#ffeaf8"/>
<rect x="731.8" y="281.7" width="16.4" height="11.1" fill="#ffeaf8"/>
<rect x="745.8" y="272.6" width="16.4" height="20.2" fill="#e6fdff"/>
<rect x="759.8" y="298.6" width="16.4" height="50.8" fill="#ffeaf8"/>
</g>
<line x1="8.5" y1="346" x2="804" y2="346" stroke="#96897f" stroke-width="1.25" stroke-dasharray="1.2,1.26"/>
<g>
<line x1="11.70" y1="478.10" x2="11.70" y2="501.50" stroke="#456f6e" stroke-width="1"/>
<rect x="8.50" y="486.00" width="8.70" height="15.50" fill="#38747a"/>
<line x1="25.70" y1="481.50" x2="25.70" y2="499.75" stroke="#456f6e" stroke-width="1"/>
<rect x="20.80" y="484.10" width="10.40" height="1.90" fill="#3f6a70"/>
<line x1="39.70" y1="492.25" x2="39.70" y2="516.90" stroke="#9a6a5c" stroke-width="1"/>
<rect x="34.80" y="492.25" width="10.40" height="18.35" fill="#ea3c48"/>
<line x1="53.70" y1="495.60" x2="53.70" y2="518.10" stroke="#456f6e" stroke-width="1"/>
<rect x="48.80" y="497.75" width="10.40" height="13.25" fill="#0f9a82"/>
<line x1="67.70" y1="485.25" x2="67.70" y2="505.60" stroke="#456f6e" stroke-width="1"/>
<rect x="62.80" y="494.00" width="10.40" height="4.75" fill="#38747a"/>
<line x1="81.70" y1="492.50" x2="81.70" y2="506.90" stroke="#9a6a5c" stroke-width="1"/>
<rect x="76.80" y="494.00" width="10.40" height="10.75" fill="#c44b41"/>
<line x1="95.70" y1="493.10" x2="95.70" y2="510.25" stroke="#456f6e" stroke-width="1"/>
<rect x="90.80" y="501.25" width="10.40" height="3.50" fill="#3f6a70"/>
<line x1="109.70" y1="490.50" x2="109.70" y2="507.25" stroke="#456f6e" stroke-width="1"/>
<rect x="104.80" y="495.00" width="10.40" height="10.70" fill="#38747a"/>
<line x1="123.70" y1="492.25" x2="123.70" y2="500.00" stroke="#9a6a5c" stroke-width="1"/>
<rect x="118.80" y="493.75" width="10.40" height="2.85" fill="#98583c"/>
<line x1="137.70" y1="483.50" x2="137.70" y2="496.40" stroke="#456f6e" stroke-width="1"/>
<rect x="132.80" y="490.60" width="10.40" height="5.80" fill="#38747a"/>
<line x1="151.70" y1="489.10" x2="151.70" y2="509.50" stroke="#9a6a5c" stroke-width="1"/>
<rect x="146.80" y="490.60" width="10.40" height="15.65" fill="#c44b41"/>
<line x1="165.70" y1="502.50" x2="165.70" y2="511.25" stroke="#9a6a5c" stroke-width="1"/>
<rect x="160.80" y="505.10" width="10.40" height="1.90" fill="#98583c"/>
<line x1="179.70" y1="496.40" x2="179.70" y2="512.50" stroke="#9a6a5c" stroke-width="1"/>
<rect x="174.80" y="502.60" width="10.40" height="8.40" fill="#c44b41"/>
<line x1="193.70" y1="486.60" x2="193.70" y2="511.25" stroke="#456f6e" stroke-width="1"/>
<rect x="188.80" y="490.75" width="10.40" height="20.50" fill="#0f9a82"/>
<rect x="188.80" y="490.75" width="4.00" height="20.50" fill="#4a6e78"/>
<line x1="207.70" y1="475.40" x2="207.70" y2="490.50" stroke="#456f6e" stroke-width="1"/>
<rect x="202.80" y="477.25" width="10.40" height="12.50" fill="#38747a"/>
<line x1="221.70" y1="474.50" x2="221.70" y2="482.60" stroke="#9a6a5c" stroke-width="1"/>
<rect x="216.80" y="477.25" width="10.40" height="2.85" fill="#98583c"/>
<line x1="235.70" y1="472.60" x2="235.70" y2="486.60" stroke="#456f6e" stroke-width="1"/>
<rect x="230.80" y="480.40" width="10.40" height="3.10" fill="#3f6a70"/>
<line x1="249.70" y1="473.50" x2="249.70" y2="485.10" stroke="#9a6a5c" stroke-width="1"/>
<rect x="244.80" y="480.10" width="10.40" height="1.90" fill="#98583c"/>
<line x1="263.70" y1="477.60" x2="263.70" y2="488.60" stroke="#9a6a5c" stroke-width="1"/>
<rect x="258.80" y="482.00" width="10.40" height="3.75" fill="#98583c"/>
<line x1="277.70" y1="476.75" x2="277.70" y2="499.75" stroke="#9a6a5c" stroke-width="1"/>
<rect x="272.80" y="484.90" width="10.40" height="1.70" fill="#98583c"/>
<line x1="291.70" y1="468.90" x2="291.70" y2="490.10" stroke="#456f6e" stroke-width="1"/>
<rect x="286.80" y="473.00" width="10.40" height="14.60" fill="#38747a"/>
<line x1="305.70" y1="410.60" x2="305.70" y2="458.10" stroke="#9a6a5c" stroke-width="1"/>
<rect x="300.80" y="413.75" width="10.40" height="31.25" fill="#ee3a48"/>
<rect x="300.80" y="413.75" width="4.00" height="31.25" fill="#a8563c"/>
<line x1="319.70" y1="391.00" x2="319.70" y2="448.10" stroke="#456f6e" stroke-width="1"/>
<rect x="314.80" y="415.60" width="10.40" height="27.30" fill="#38747a"/>
<line x1="333.70" y1="396.25" x2="333.70" y2="426.25" stroke="#456f6e" stroke-width="1"/>
<rect x="328.80" y="405.60" width="10.40" height="10.90" fill="#38747a"/>
<line x1="347.70" y1="359.20" x2="347.70" y2="414.40" stroke="#456f6e" stroke-width="1"/>
<rect x="342.80" y="384.30" width="10.40" height="20.70" fill="#0f9a82"/>
<line x1="361.70" y1="279.50" x2="361.70" y2="389.50" stroke="#456f6e" stroke-width="1"/>
<rect x="356.80" y="290.50" width="10.40" height="93.00" fill="#0f9a82"/>
<rect x="356.80" y="290.50" width="4.00" height="93.00" fill="#3a767a"/>
<line x1="375.70" y1="76.50" x2="375.70" y2="367.25" stroke="#9a6a5c" stroke-width="1"/>
<rect x="370.80" y="239.10" width="10.40" height="98.60" fill="#c44b41"/>
<line x1="389.70" y1="288.70" x2="389.70" y2="400.00" stroke="#456f6e" stroke-width="1"/>
<rect x="384.80" y="326.80" width="10.40" height="5.40" fill="#38747a"/>
<line x1="403.70" y1="307.70" x2="403.70" y2="362.60" stroke="#456f6e" stroke-width="1"/>
<rect x="398.80" y="312.50" width="10.40" height="11.70" fill="#38747a"/>
<line x1="417.70" y1="245.50" x2="417.70" y2="310.30" stroke="#456f6e" stroke-width="1"/>
<rect x="412.80" y="251.80" width="10.40" height="53.40" fill="#0f9a82"/>
<line x1="431.70" y1="229.20" x2="431.70" y2="283.60" stroke="#456f6e" stroke-width="1"/>
<rect x="426.80" y="229.20" width="10.40" height="19.40" fill="#38747a"/>
<line x1="445.70" y1="205.30" x2="445.70" y2="277.80" stroke="#9a6a5c" stroke-width="1"/>
<rect x="440.80" y="216.90" width="10.40" height="51.40" fill="#c44b41"/>
<line x1="459.70" y1="236.00" x2="459.70" y2="270.75" stroke="#456f6e" stroke-width="1"/>
<rect x="454.80" y="254.40" width="10.40" height="12.30" fill="#38747a"/>
<line x1="473.70" y1="226.00" x2="473.70" y2="288.40" stroke="#456f6e" stroke-width="1"/>
<rect x="468.80" y="231.70" width="10.40" height="28.30" fill="#38747a"/>
<line x1="487.70" y1="220.00" x2="487.70" y2="283.80" stroke="#9a6a5c" stroke-width="1"/>
<rect x="482.80" y="239.00" width="10.40" height="26.00" fill="#c44b41"/>
<line x1="501.70" y1="232.90" x2="501.70" y2="280.40" stroke="#456f6e" stroke-width="1"/>
<rect x="496.80" y="239.00" width="10.40" height="27.80" fill="#38747a"/>
<line x1="515.70" y1="210.20" x2="515.70" y2="342.30" stroke="#9a6a5c" stroke-width="1"/>
<rect x="510.80" y="220.40" width="10.40" height="88.40" fill="#ea3c48"/>
<line x1="529.70" y1="273.60" x2="529.70" y2="328.00" stroke="#9a6a5c" stroke-width="1"/>
<rect x="524.80" y="309.40" width="10.40" height="3.20" fill="#98583c"/>
<line x1="543.70" y1="286.10" x2="543.70" y2="326.90" stroke="#456f6e" stroke-width="1"/>
<rect x="538.80" y="289.60" width="10.40" height="22.10" fill="#38747a"/>
<line x1="557.70" y1="258.20" x2="557.70" y2="302.60" stroke="#456f6e" stroke-width="1"/>
<rect x="552.80" y="271.50" width="10.40" height="18.40" fill="#38747a"/>
<line x1="571.70" y1="214.40" x2="571.70" y2="283.50" stroke="#456f6e" stroke-width="1"/>
<rect x="566.80" y="215.10" width="10.40" height="59.30" fill="#0f9a82"/>
<line x1="585.70" y1="182.70" x2="585.70" y2="227.50" stroke="#456f6e" stroke-width="1"/>
<rect x="580.80" y="186.50" width="10.40" height="17.70" fill="#38747a"/>
<line x1="599.70" y1="171.30" x2="599.70" y2="226.20" stroke="#9a6a5c" stroke-width="1"/>
<rect x="594.80" y="185.60" width="10.40" height="26.50" fill="#c44b41"/>
<line x1="613.70" y1="199.00" x2="613.70" y2="250.60" stroke="#9a6a5c" stroke-width="1"/>
<rect x="608.80" y="211.40" width="10.40" height="21.10" fill="#ea3c48"/>
<line x1="627.70" y1="118.10" x2="627.70" y2="242.70" stroke="#456f6e" stroke-width="1"/>
<rect x="622.80" y="132.60" width="10.40" height="99.90" fill="#0f9a82"/>
<line x1="641.70" y1="106.00" x2="641.70" y2="155.90" stroke="#9a6a5c" stroke-width="1"/>
<rect x="636.80" y="125.30" width="10.40" height="3.00" fill="#98583c"/>
<line x1="655.70" y1="89.50" x2="655.70" y2="153.60" stroke="#9a6a5c" stroke-width="1"/>
<rect x="650.80" y="127.60" width="10.40" height="18.60" fill="#c44b41"/>
<line x1="669.70" y1="153.60" x2="669.70" y2="291.50" stroke="#9a6a5c" stroke-width="1"/>
<rect x="664.80" y="158.20" width="10.40" height="93.00" fill="#ea3c48"/>
<line x1="683.70" y1="203.10" x2="683.70" y2="259.10" stroke="#456f6e" stroke-width="1"/>
<rect x="678.80" y="239.90" width="10.40" height="8.60" fill="#38747a"/>
<line x1="697.70" y1="220.60" x2="697.70" y2="257.50" stroke="#9a6a5c" stroke-width="1"/>
<rect x="692.80" y="237.60" width="10.40" height="19.90" fill="#ea3c48"/>
<line x1="711.70" y1="181.30" x2="711.70" y2="246.20" stroke="#9a6a5c" stroke-width="1"/>
<rect x="706.80" y="208.80" width="10.40" height="29.90" fill="#c44b41"/>
<line x1="725.70" y1="238.70" x2="725.70" y2="291.50" stroke="#9a6a5c" stroke-width="1"/>
<rect x="720.80" y="239.90" width="10.40" height="44.60" fill="#ea3c48"/>
<line x1="739.70" y1="275.00" x2="739.70" y2="322.60" stroke="#9a6a5c" stroke-width="1"/>
<rect x="734.80" y="285.20" width="10.40" height="4.10" fill="#98583c"/>
<line x1="753.70" y1="258.00" x2="753.70" y2="295.40" stroke="#456f6e" stroke-width="1"/>
<rect x="748.80" y="276.10" width="10.40" height="13.20" fill="#0f9a82"/>
<line x1="767.70" y1="297.40" x2="767.70" y2="383.70" stroke="#9a6a5c" stroke-width="1"/>
<rect x="762.80" y="302.10" width="10.40" height="43.80" fill="#c44b41"/>
</g>
<g font-size="10.3" color="#33363d" text-anchor="start" style="stroke-width:0.08px">
<text x="846.8" y="561.6" textLength="26.7" lengthAdjust="spacingAndGlyphs">56.00</text>
<text x="846.8" y="531.2" textLength="26.7" lengthAdjust="spacingAndGlyphs">60.00</text>
<text x="846.8" y="500.8" textLength="26.7" lengthAdjust="spacingAndGlyphs">64.00</text>
<text x="846.8" y="470.5" textLength="26.7" lengthAdjust="spacingAndGlyphs">68.00</text>
<text x="846.8" y="440.1" textLength="26.7" lengthAdjust="spacingAndGlyphs">72.00</text>
<text x="846.8" y="409.8" textLength="26.7" lengthAdjust="spacingAndGlyphs">76.00</text>
<text x="846.8" y="379.4" textLength="26.7" lengthAdjust="spacingAndGlyphs">80.00</text>
<text x="846.8" y="318.7" textLength="26.7" lengthAdjust="spacingAndGlyphs">88.00</text>
<text x="846.8" y="288.3" textLength="26.7" lengthAdjust="spacingAndGlyphs">92.00</text>
<text x="846.8" y="258.0" textLength="26.7" lengthAdjust="spacingAndGlyphs">96.00</text>
<text x="847.8" y="227.6" textLength="32" lengthAdjust="spacingAndGlyphs">100.00</text>
<text x="847.8" y="197.2" textLength="32" lengthAdjust="spacingAndGlyphs">104.00</text>
<text x="847.8" y="166.9" textLength="32" lengthAdjust="spacingAndGlyphs">108.00</text>
<text x="847.8" y="136.5" textLength="32" lengthAdjust="spacingAndGlyphs">112.00</text>
<text x="847.8" y="106.2" textLength="32" lengthAdjust="spacingAndGlyphs">116.00</text>
<text x="847.8" y="75.8" textLength="32" lengthAdjust="spacingAndGlyphs">120.00</text>
</g>
<rect x="842" y="64" width="43" height="4.9" fill="#ffffff"/>
<rect x="842.5" y="24.8" width="42.4" height="40" rx="4" ry="4" fill="#ffffff" stroke="#f0f1f4" stroke-width="1"/>
<g font-size="10.5" color="#131722">
<text x="850" y="38.7" textLength="20" lengthAdjust="spacingAndGlyphs">USD</text>
<text x="850" y="58.9" textLength="16.8" lengthAdjust="spacingAndGlyphs">BLL</text>
</g>
<rect x="808" y="335.8" width="72.5" height="19" fill="#ffe9f8"/>
<rect x="804" y="339.5" width="74.5" height="13" rx="1.5" fill="#cf4146"/>
<line x1="839.3" y1="339.5" x2="839.3" y2="352.5" stroke="#f3c9cc" stroke-width="0.8"/>
<g font-size="10.3" color="#ffdde2" style="stroke-width:0.12px">
<text x="807.5" y="350.1" textLength="27.5" lengthAdjust="spacingAndGlyphs">USOIL</text>
<text x="847" y="350.1" textLength="27" lengthAdjust="spacingAndGlyphs">83.99</text>
</g>
<g font-size="10.3" color="#33363d" text-anchor="middle" style="stroke-width:0.1px">
<text x="39.7" y="606.1" font-weight="bold" color="#131722">Feb</text>
<text x="81.7" y="606.1">5</text>
<text x="123.7" y="606.1">10</text>
<text x="165.7" y="606.1">13</text>
<text x="207.7" y="606.1">19</text>
<text x="249.7" y="606.1">24</text>
<text x="305.7" y="606.1" font-weight="bold" color="#131722">Mar</text>
<text x="347.7" y="606.1">5</text>
<text x="389.7" y="606.1">10</text>
<text x="431.7" y="606.1">13</text>
<text x="473.7" y="606.1">18</text>
<text x="515.7" y="606.1">23</text>
<text x="557.7" y="606.1">26</text>
<text x="613.7" y="606.1" font-weight="bold" color="#131722">Apr</text>
<text x="655.7" y="606.1">7</text>
<text x="697.7" y="606.1">10</text>
<text x="739.7" y="606.1">15</text>
<text x="781.7" y="606.1">20</text>
<text x="823.7" y="606.1">23</text>
</g>
<g color="#131722">
<text x="8.40" y="15.80" font-size="10.5" textLength="67.50" lengthAdjust="spacingAndGlyphs">marketssuberg</text>
<text x="79.70" y="15.80" font-size="10.5" textLength="33.80" lengthAdjust="spacingAndGlyphs">created</text>
<text x="117.00" y="15.80" font-size="10.5" textLength="18.00" lengthAdjust="spacingAndGlyphs">with</text>
<text x="139.40" y="15.80" font-size="10.5" textLength="79.60" lengthAdjust="spacingAndGlyphs">TradingView.com,</text>
<text x="222.50" y="15.80" font-size="10.5" textLength="16.00" lengthAdjust="spacingAndGlyphs">Apr</text>
<text x="242.13" y="15.80" font-size="10.5" textLength="13.14" lengthAdjust="spacingAndGlyphs">19,</text>
<text x="257.90" y="15.80" font-size="10.5" textLength="22.70" lengthAdjust="spacingAndGlyphs">2026</text>
<text x="284.53" y="15.80" font-size="10.5" textLength="22.94" lengthAdjust="spacingAndGlyphs">11:52</text>
<text x="310.79" y="15.80" font-size="10.5" textLength="19.42" lengthAdjust="spacingAndGlyphs">UTC</text>
</g>
<g color="#131722" font-size="10.5">
<text x="14.75" y="38.00" font-size="10.5" textLength="24.25" lengthAdjust="spacingAndGlyphs">CFDs</text>
<text x="42.25" y="38.00" font-size="10.5" textLength="10.85" lengthAdjust="spacingAndGlyphs">on</text>
<text x="56.47" y="38.00" font-size="10.5" textLength="17.32" lengthAdjust="spacingAndGlyphs">WTI</text>
<text x="77.43" y="38.00" font-size="10.5" textLength="25.74" lengthAdjust="spacingAndGlyphs">Crude</text>
<text x="106.55" y="38.00" font-size="10.5" textLength="11.55" lengthAdjust="spacingAndGlyphs">Oil</text>
<text x="127.84" y="38.00" font-size="10.5" textLength="12.08" lengthAdjust="spacingAndGlyphs">1D</text>
<text x="148.43" y="38.00" font-size="10.5" textLength="18.90" lengthAdjust="spacingAndGlyphs">TVC</text>
<text x="123.75" y="38" text-anchor="middle" font-weight="bold">·</text>
<text x="143.75" y="38" text-anchor="middle" font-weight="bold">·</text>
<text x="173.40" y="38.00" font-size="10.5" textLength="32.50" lengthAdjust="spacingAndGlyphs">O<tspan color="#a3857a">89.72</tspan></text>
<text x="212.40" y="38.00" font-size="10.5" textLength="32.60" lengthAdjust="spacingAndGlyphs">H<tspan color="#a3857a">90.34</tspan></text>
<text x="252.10" y="38.00" font-size="10.5" textLength="29.40" lengthAdjust="spacingAndGlyphs">L<tspan color="#a3857a">78.97</tspan></text>
<text x="288.00" y="38.00" font-size="10.5" textLength="32.40" lengthAdjust="spacingAndGlyphs">C<tspan color="#a3857a">83.99</tspan></text>
<text x="327.37" y="38.00" font-size="10.5" textLength="23.91" lengthAdjust="spacingAndGlyphs" color="#a3857a">−9.19</text>
<text x="356.00" y="38.00" font-size="10.5" textLength="41.00" lengthAdjust="spacingAndGlyphs" color="#a3857a">(−9.86%)</text>
</g>
<g color="#131722">
<text x="15.00" y="580.20" font-size="10.5" textLength="25.60" lengthAdjust="spacingAndGlyphs">Stoch</text>
<text x="43.57" y="580.20" font-size="10.5" textLength="15.75" lengthAdjust="spacingAndGlyphs">RSI</text>
<text x="62.59" y="580.20" font-size="10.5" textLength="11.03" lengthAdjust="spacingAndGlyphs">(3,</text>
<text x="76.90" y="580.20" font-size="10.5" textLength="8.10" lengthAdjust="spacingAndGlyphs">3,</text>
<text x="87.98" y="580.20" font-size="10.5" textLength="13.14" lengthAdjust="spacingAndGlyphs">14,</text>
<text x="103.76" y="580.20" font-size="10.5" textLength="13.14" lengthAdjust="spacingAndGlyphs">14,</text>
<text x="120.60" y="580.20" font-size="10.5" textLength="26.90" lengthAdjust="spacingAndGlyphs">close)</text>
<text x="154.00" y="580.20" font-size="10.5" textLength="19.50" lengthAdjust="spacingAndGlyphs" color="#5a55d0">2.59</text>
<text x="180.00" y="580.20" font-size="10.5" textLength="20.00" lengthAdjust="spacingAndGlyphs" color="#a8a030">2.94</text>
</g>
<rect x="786" y="544" width="21" height="17" fill="#fff0fa"/>
<rect x="790" y="564" width="11" height="11" fill="#fff6fc"/>
<g fill="none">
<circle cx="768.55" cy="552.95" r="7.8" stroke="#5b3a9c" stroke-width="1.25" fill="#fff"/>
<path d="M771.0 548.6 L765.0 553.5 L768.5 553.5 L766.0 557.6 L772.0 552.5 L768.5 552.5 Z" fill="#4a2a9a" stroke="#4a2a9a" stroke-width="0.5" stroke-linejoin="round"/>
<circle cx="795.55" cy="552.6" r="8.4" stroke="#9a7860" stroke-width="1.25" fill="#fff"/>
<clipPath id="fc"><circle cx="795.55" cy="552.6" r="6.2"/></clipPath>
<g clip-path="url(#fc)">
<rect x="788" y="545" width="16" height="16" fill="#ffffff"/>
<rect x="788" y="547.6" width="16" height="1.2" fill="#d8c0b0"/>
<rect x="788" y="551" width="16" height="2.8" fill="#a47a52"/>
<rect x="788" y="555.8" width="16" height="2.6" fill="#9a8046"/>
<rect x="788" y="545" width="10.6" height="9" fill="#8e6aea"/>
<circle cx="789.9" cy="547.6" r="0.55" fill="#d9ccff"/>
<circle cx="792.0" cy="547.6" r="0.55" fill="#d9ccff"/>
<circle cx="794.1" cy="547.6" r="0.55" fill="#d9ccff"/>
<circle cx="796.2" cy="547.6" r="0.55" fill="#d9ccff"/>
<circle cx="798.3" cy="547.6" r="0.55" fill="#d9ccff"/>
<circle cx="789.9" cy="549.5" r="0.55" fill="#d9ccff"/>
<circle cx="792.0" cy="549.5" r="0.55" fill="#d9ccff"/>
<circle cx="794.1" cy="549.5" r="0.55" fill="#d9ccff"/>
<circle cx="796.2" cy="549.5" r="0.55" fill="#d9ccff"/>
<circle cx="798.3" cy="549.5" r="0.55" fill="#d9ccff"/>
<circle cx="789.9" cy="551.4" r="0.55" fill="#d9ccff"/>
<circle cx="792.0" cy="551.4" r="0.55" fill="#d9ccff"/>
<circle cx="794.1" cy="551.4" r="0.55" fill="#d9ccff"/>
<circle cx="796.2" cy="551.4" r="0.55" fill="#d9ccff"/>
<circle cx="798.3" cy="551.4" r="0.55" fill="#d9ccff"/>
<circle cx="789.9" cy="553.3" r="0.55" fill="#d9ccff"/>
<circle cx="792.0" cy="553.3" r="0.55" fill="#d9ccff"/>
<circle cx="794.1" cy="553.3" r="0.55" fill="#d9ccff"/>
<circle cx="796.2" cy="553.3" r="0.55" fill="#d9ccff"/>
<circle cx="798.3" cy="553.3" r="0.55" fill="#d9ccff"/>
</g>
</g>
<g fill="#131722" color="#131722">
<g transform="translate(9.5,628.6) scale(0.685)"><path d="M14 22H7V11H0V4h14v18zM28 22h-8l7.5-18h8L28 22z"/><circle cx="20" cy="8" r="4"/></g>
<text x="40.2" y="643.9" font-size="16" font-weight="bold" stroke="none" textLength="96.8" lengthAdjust="spacingAndGlyphs">TradingView</text>
</g>
</svg></body></html>
